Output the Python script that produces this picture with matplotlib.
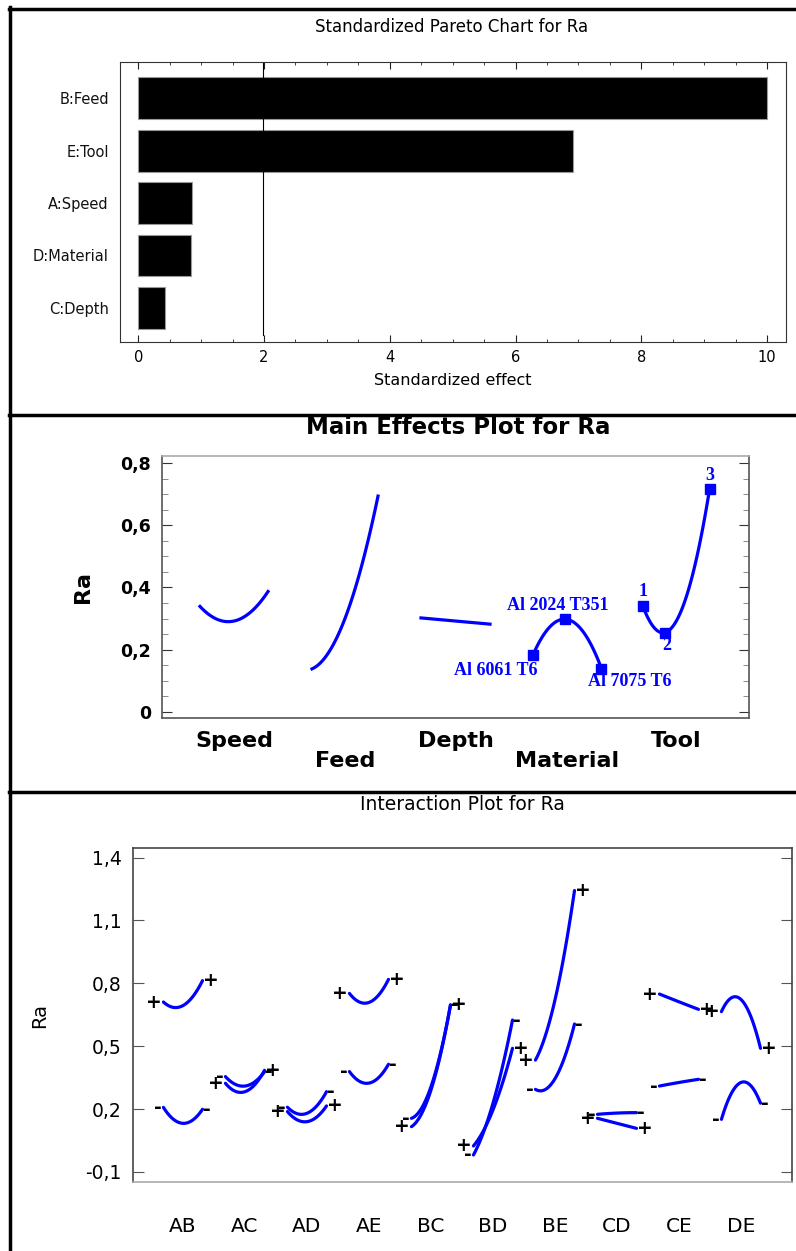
import numpy as np
import matplotlib
matplotlib.use('Agg')
import matplotlib.pyplot as plt
from matplotlib.lines import Line2D
from matplotlib.ticker import MultipleLocator, FuncFormatter

W, H = 796, 1251

# pareto chart
effects = ['B:Feed', 'E:Tool', 'A:Speed', 'D:Material', 'C:Depth']
std_effect = [10.0, 6.92, 0.86, 0.84, 0.43]
t_crit = 1.99

# main effects (level positions on the plot and mean Ra per level)
factors = ['Speed', 'Feed', 'Depth', 'Material', 'Tool']
factor_x = [[0.647, 1.226, 1.806],
            [2.555, 3.117, 3.680],
            [4.412, 5.000, 5.588],
            [6.320, 6.857, 7.487],
            [8.194, 8.569, 9.329]]
factor_ra = [[0.339, 0.292, 0.387],
             [0.138, 0.300, 0.694],
             [0.302, 0.292, 0.282],
             [0.183, 0.298, 0.139],
             [0.339, 0.255, 0.717]]
material_levels = ['Al 6061 T6', 'Al 2024 T351', 'Al 7075 T6']
tool_levels = ['1', '2', '3']

# interactions: Ra at low / mid / high of first factor, second factor at - and +
pairs = ['AB', 'AC', 'AD', 'AE', 'BC', 'BD', 'BE', 'CD', 'CE', 'DE']
ra_minus = [[0.208, 0.132, 0.199],
            [0.355, 0.310, 0.378],
            [0.209, 0.180, 0.283],
            [0.379, 0.324, 0.414],
            [0.156, 0.307, 0.697],
            [-0.019, 0.228, 0.625],
            [0.294, 0.345, 0.606],
            [0.175, 0.181, 0.183],
            [0.310, 0.327, 0.342],
            [0.151, 0.327, 0.228]]
ra_plus = [[0.711, 0.694, 0.813],
           [0.323, 0.283, 0.385],
           [0.188, 0.140, 0.215],
           [0.752, 0.709, 0.819],
           [0.116, 0.291, 0.697],
           [0.024, 0.196, 0.490],
           [0.434, 0.721, 1.243],
           [0.156, 0.132, 0.108],
           [0.749, 0.712, 0.676],
           [0.665, 0.723, 0.490]]


def px_axes(fig, l, t, r, b):
    return fig.add_axes([l / W, 1 - b / H, (r - l) / W, (b - t) / H])


def quad(xs, ys):
    coef = np.polyfit(xs, ys, 2)
    xx = np.linspace(xs[0], xs[-1], 80)
    return xx, np.polyval(coef, xx)


comma = FuncFormatter(lambda v, p: ('%g' % round(v, 3)).replace('.', ','))
BLUE = '#0000ff'

plt.rcParams['font.family'] = ['DejaVu Sans']
fig = plt.figure(figsize=(W / 100, H / 100), dpi=100)

# panel frame lines
for y in (8.5, 415, 791.5):
    fig.add_artist(Line2D([9 / W, 1], [1 - y / H, 1 - y / H], color='black', lw=2.5))
fig.add_artist(Line2D([9.5 / W, 9.5 / W], [0, 1 - 7 / H], color='black', lw=2.5))

# ---------------- Pareto
ax1 = px_axes(fig, 120, 62, 786, 342)
ypos = np.arange(len(effects))[::-1]
ax1.barh(ypos, std_effect, height=0.8, color='black', edgecolor='#999999', lw=0.8)
ax1.axvline(t_crit, ymin=0.025, color='black', lw=0.8)
ax1.set_xlim(-0.29, 10.3)
ax1.set_ylim(-0.65, 4.69)
ax1.set_yticks(ypos)
ax1.set_yticklabels(effects, fontsize=10.5, color='#111111')
ax1.tick_params(axis='y', length=0, pad=8)
ax1.xaxis.set_major_locator(MultipleLocator(2))
ax1.xaxis.set_minor_locator(MultipleLocator(0.5))
ax1.tick_params(axis='x', which='both', direction='in', top=True, bottom=True,
                labelsize=10.5, pad=6, color='#222222')
ax1.tick_params(axis='x', which='major', length=5)
ax1.tick_params(axis='x', which='minor', length=2.5)
for s in ax1.spines.values():
    s.set_color('#333333')
ax1.set_xlabel('Standardized effect', fontsize=11.5)
ax1.xaxis.label.set_va('center')
ax1.xaxis.set_label_coords(0.5, -0.139)
fig.text(452 / W, 1 - 27 / H, 'Standardized Pareto Chart for Ra', fontsize=12,
         ha='center', va='center')

# ---------------- Main effects
ax2 = px_axes(fig, 162, 456, 749, 718)
for xs, ys in zip(factor_x, factor_ra):
    xx, yy = quad(xs, ys)
    ax2.plot(xx, yy, color=BLUE, lw=2.3)
for k in (3, 4):
    ax2.plot(factor_x[k], factor_ra[k], 's', color=BLUE, ms=6.5)
offs_mat = [(-27, -11), (-5, 10), (20, -9)]
offs_tool = [(0, 11), (1, -9), (0, 9.5)]
for k, marks, offs in ((3, material_levels, offs_mat), (4, tool_levels, offs_tool)):
    for lab, x, y, o in zip(marks, factor_x[k], factor_ra[k], offs):
        ax2.annotate(lab, (x, y), xytext=o, textcoords='offset points', ha='center',
                     va='center', color=BLUE, fontsize=13, fontweight='bold',
                     family='Liberation Serif')
ax2.set_xlim(0, 10)
ax2.set_ylim(-0.02, 0.823)
ax2.set_xticks([])
ax2.yaxis.set_major_locator(MultipleLocator(0.2))
ax2.yaxis.set_minor_locator(MultipleLocator(0.05))
ax2.yaxis.set_major_formatter(comma)
ax2.tick_params(axis='y', which='both', direction='in', left=True, right=True, pad=8)
ax2.tick_params(axis='y', which='major', length=7.5, color='#333333', labelsize=12.5)
ax2.tick_params(axis='y', which='minor', length=4.5, color='#777777')
for lab in ax2.get_yticklabels():
    lab.set_fontweight('bold')
for name, s in ax2.spines.items():
    s.set_color('#aaaaaa' if name == 'top' else '#555555')
    s.set_linewidth(1.2)
for i, (name, xs) in enumerate(zip(factors, factor_x)):
    ax2.text((xs[0] + xs[-1]) / 2, -0.087 if i % 2 == 0 else -0.164, name,
             transform=ax2.get_xaxis_transform(), ha='center', va='center',
             fontsize=16, fontweight='bold')
ax2.set_ylabel('Ra', fontsize=16, fontweight='bold')
ax2.yaxis.label.set_va('center')
ax2.yaxis.set_label_coords(-0.135, 0.5)
fig.text(458 / W, 1 - 428 / H, 'Main Effects Plot for Ra', fontsize=16.5,
         fontweight='bold', ha='center', va='center')

# ---------------- Interactions
ax3 = px_axes(fig, 133, 848, 792, 1182)
half = 0.315
for i in range(len(pairs)):
    xs = [i - half, i, i + half]
    for vals, sym in ((ra_minus[i], '-'), (ra_plus[i], '+')):
        xx, yy = quad(xs, vals)
        ax3.plot(xx, yy, color=BLUE, lw=2.3, solid_capstyle='round')
        ax3.annotate(sym, (xs[0], vals[0]), xytext=(-1, 0), textcoords='offset points',
                     ha='right', va='center', fontsize=13.5, fontweight='bold')
        ax3.annotate(sym, (xs[-1], vals[-1]), xytext=(0.5, 0), textcoords='offset points',
                     ha='left', va='center', fontsize=13.5, fontweight='bold')
ax3.set_xlim(-0.806, 9.823)
ax3.set_ylim(-0.148, 1.446)
ax3.set_xticks(range(len(pairs)))
ax3.set_xticklabels(pairs, fontsize=14.5)
ax3.tick_params(axis='x', length=0, pad=25)
ax3.set_yticks([-0.1, 0.2, 0.5, 0.8, 1.1, 1.4])
ax3.yaxis.set_major_formatter(comma)
ax3.tick_params(axis='y', direction='in', left=True, right=True, length=8,
                color='#555555', labelsize=13.5, pad=8)
for name, s in ax3.spines.items():
    s.set_color('#aaaaaa' if name == 'bottom' else '#444444')
    s.set_linewidth(1.2)
ax3.set_ylabel('Ra', fontsize=14)
ax3.yaxis.label.set_va('center')
ax3.yaxis.set_label_coords(-0.141, 0.5)
fig.text(462 / W, 1 - 805 / H, 'Interaction Plot for Ra', fontsize=13.5,
         ha='center', va='center')

fig.savefig('out.png', dpi=100, facecolor='white')
